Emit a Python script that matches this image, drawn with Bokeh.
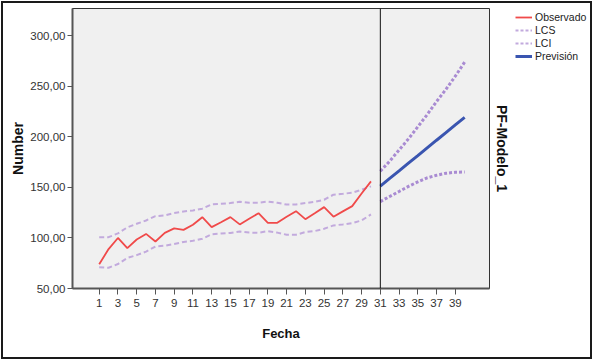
from bokeh.plotting import figure
from bokeh.models import Span, Legend, LegendItem, LinearAxis, FixedTicker, Range1d
from bokeh.layouts import column, row
from bokeh.embed import file_html
from bokeh.resources import INLINE

# ---- data ----
fecha_obs = list(range(1, 31))
observado = [74, 89, 100, 90, 98.5, 104, 96.5, 105, 109.5, 108,
             113, 120.5, 110.7, 115.6, 120.6, 113.4, 119, 124.5, 115, 115,
             121, 126.5, 118.6, 124.5, 130.5, 121, 126.3, 131.5, 144, 156]
lcs_hist = [100.8, 100.8, 104.5, 110.5, 114, 117.3, 121.6, 122.3, 124.6, 126.2,
            127.2, 129, 133.2, 133.8, 134.5, 135.8, 134.8, 134.8, 136, 134.8,
            133, 133.2, 134.5, 135.8, 137.8, 142.8, 143.7, 144.7, 147.7, 151]
lci_hist = [71.1, 70.5, 74.2, 80.2, 83, 86.5, 91.5, 92.3, 94, 96,
            97.2, 99.2, 103.7, 104.5, 105, 106.4, 105.3, 105.2, 106.7, 105.3,
            103.2, 103.2, 105.8, 106.8, 109.1, 112.4, 113.4, 114.7, 117.3, 123.3]

fecha_fc = list(range(31, 41))
prevision = [151.3, 158.9, 166.4, 174.0, 181.5, 189.1, 196.7, 204.2, 211.8, 219.3]
lcs_fc = [166, 176, 187, 198, 210, 222, 235, 247, 260, 274]
lci_fc = [136, 141, 146, 151, 155.5, 159.5, 162, 164, 165, 165.3]

x_ticks = list(range(1, 40, 2))
y_ticks = [50, 100, 150, 200, 250, 300]
y_tick_labels = ["50,00", "100,00", "150,00", "200,00", "250,00", "300,00"]
forecast_start = 31

FONT = "Liberation Sans"
C_OBS, C_BAND_H, C_BAND_F, C_PREV = "#f04a4a", "#c2aadd", "#a98bd2", "#3a55b0"

p = figure(frame_width=417, frame_height=280, output_backend="svg", toolbar_location=None,
           x_range=Range1d(-1.85, 42.65), y_range=Range1d(50, 327),
           min_border_left=69, min_border_top=5, min_border_bottom=69, min_border_right=0,
           background_fill_color="#f0f0f0", border_fill_color="white")
p.grid.visible = False
p.outline_line_color = "#333333"
p.outline_line_width = 1

# x axis
xa = p.xaxis[0]
xa.ticker = FixedTicker(ticks=x_ticks)
xa.axis_line_width = 2
xa.axis_line_color = "#555555"
xa.major_tick_out = 6
xa.major_tick_in = 0
xa.major_tick_line_color = "#555555"
xa.minor_tick_line_color = None
xa.major_label_text_font = FONT
xa.major_label_text_font_size = "11.5px"
xa.major_label_text_color = "#333333"
xa.major_label_standoff = 4
xa.axis_label = "Fecha"
xa.axis_label_text_font = FONT
xa.axis_label_text_font_style = "bold"
xa.axis_label_text_font_size = "13px"
xa.axis_label_text_color = "#111111"
xa.axis_label_standoff = 16

# y axis
ya = p.yaxis[0]
ya.ticker = FixedTicker(ticks=y_ticks)
ya.major_label_overrides = {t: l for t, l in zip(y_ticks, y_tick_labels)}
ya.axis_line_width = 2
ya.axis_line_color = "#555555"
ya.major_tick_out = 5
ya.major_tick_in = 0
ya.major_tick_line_color = "#555555"
ya.minor_tick_line_color = None
ya.major_label_text_font = FONT
ya.major_label_text_font_size = "11.5px"
ya.major_label_text_color = "#333333"
ya.major_label_standoff = 2
ya.axis_label = "Number"
ya.axis_label_text_font = FONT
ya.axis_label_text_font_style = "bold"
ya.axis_label_text_font_size = "14px"
ya.axis_label_text_color = "#111111"
ya.axis_label_standoff = 1

# lines
p.line(fecha_obs, lcs_hist, line_color=C_BAND_H, line_width=2, line_dash="5 3")
p.line(fecha_obs, lci_hist, line_color=C_BAND_H, line_width=2, line_dash="5 3")
p.line(fecha_obs, observado, line_color=C_OBS, line_width=1.8)
p.line(fecha_fc, lcs_fc, line_color=C_BAND_F, line_width=3, line_dash="3 2")
p.line(fecha_fc, lci_fc, line_color=C_BAND_F, line_width=3, line_dash="3 2")
p.line(fecha_fc, prevision, line_color=C_PREV, line_width=3)

p.add_layout(Span(location=forecast_start, dimension="height", line_color="#111111", line_width=1))

# right axis carrying the model label (one hidden tick with an empty label)
ra = LinearAxis(ticker=FixedTicker(ticks=[y_ticks[0]]), axis_label="PF-Modelo_1")
ra.major_label_overrides = {y_ticks[0]: ""}
ra.axis_line_color = None
ra.major_tick_line_color = None
ra.minor_tick_line_color = None
ra.major_tick_out = 0
ra.major_tick_in = 0
ra.major_label_standoff = 0
ra.axis_label_text_font = FONT
ra.axis_label_text_font_style = "bold"
ra.axis_label_text_font_size = "14px"
ra.axis_label_text_color = "#111111"
ra.axis_label_standoff = 4
p.add_layout(ra, "right")

# legend panel: a small companion figure whose own lines sit outside its view
LEG_W, LEG_H = 78, 354
q = figure(width=LEG_W, height=LEG_H, output_backend="svg", toolbar_location=None,
           x_range=Range1d(1000, 1001), y_range=Range1d(50, 327),
           x_axis_type=None, y_axis_type=None,
           min_border_left=0, min_border_right=0, min_border_top=0, min_border_bottom=0,
           background_fill_color="white", border_fill_color="white")
q.grid.visible = False
q.outline_line_color = None
q_obs = q.line(fecha_obs, observado, line_color=C_OBS, line_width=1.8)
q_lcs = q.line(fecha_obs, lcs_hist, line_color=C_BAND_H, line_width=2, line_dash="3 2")
q_lci = q.line(fecha_obs, lci_hist, line_color=C_BAND_H, line_width=2, line_dash="3 2")
q_prev = q.line(fecha_fc, prevision, line_color=C_PREV, line_width=3)

legend = Legend(items=[
    LegendItem(label="Observado", renderers=[q_obs]),
    LegendItem(label="LCS", renderers=[q_lcs]),
    LegendItem(label="LCI", renderers=[q_lci]),
    LegendItem(label="Previsión", renderers=[q_prev]),
], location="top_left", label_text_font=FONT, label_text_font_size="10.5px",
   label_text_color="#222222", glyph_width=17, glyph_height=12, label_height=12,
   spacing=1, padding=1, margin=3, border_line_color=None,
   background_fill_alpha=0, label_standoff=3)
q.add_layout(legend)

page = column(row(p, q), styles={"border": "2px solid #1a1a1a", "margin-left": "1px", "margin-top": "1px"})

open("out.html", "w").write(file_html(page, INLINE))
